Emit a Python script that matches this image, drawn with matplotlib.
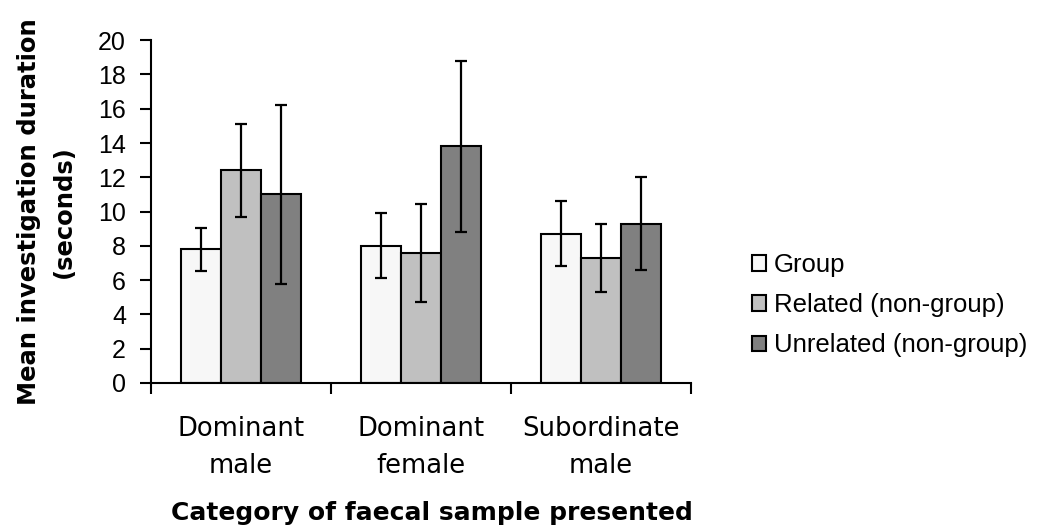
import numpy as np
import matplotlib
matplotlib.use("Agg")
import matplotlib.pyplot as plt

categories = ["Dominant\nmale", "Dominant\nfemale", "Subordinate\nmale"]
series_names = ["Group", "Related (non-group)", "Unrelated (non-group)"]
means = [
    [7.8, 8.0, 8.7],     # Group
    [12.4, 7.6, 7.3],    # Related (non-group)
    [11.0, 13.8, 9.3],   # Unrelated (non-group)
]
errors = [
    [1.25, 1.9, 1.9],
    [2.7, 2.85, 2.0],
    [5.2, 5.0, 2.7],
]
colors = ["#F7F7F7", "#C0C0C0", "#808080"]
yticks = list(range(0, 21, 2))

plt.rcParams["font.family"] = ["Liberation Sans", "DejaVu Sans"]
BOLD = ["DejaVu Sans"]

fig = plt.figure(figsize=(10.37, 5.29), dpi=100)
ax = fig.add_axes([0.1456, 0.276, 0.5207, 0.648])

n = len(categories)
x = np.arange(n)
width = 0.222
for i, (vals, errs, col, name) in enumerate(zip(means, errors, colors, series_names)):
    pos = x + (i - 1) * width
    ax.bar(pos, vals, width=width, color=col, edgecolor="black", linewidth=1.5,
           label=name, zorder=2)
    ax.errorbar(pos, vals, yerr=errs, fmt="none", ecolor="black", elinewidth=1.6,
                capsize=4.5, capthick=1.6, zorder=3)

ax.set_xlim(-0.5, n - 0.5)
ax.set_ylim(0, 20)
ax.set_yticks(yticks)
ax.set_yticklabels([str(v) for v in yticks], fontsize=18)
ax.tick_params(axis="y", length=8, width=1.5, pad=10)

# category labels centred, ticks at group boundaries
ax.set_xticks(x)
ax.set_xticklabels(categories, fontsize=18.6, family=["DejaVu Sans"],
                   linespacing=1.52)
ax.tick_params(axis="x", length=0, pad=24)
ax.set_xticks(np.arange(n + 1) - 0.5, minor=True)
ax.tick_params(axis="x", which="minor", length=8, width=1.5)

for side in ["top", "right"]:
    ax.spines[side].set_visible(False)
for side in ["left", "bottom"]:
    ax.spines[side].set_linewidth(1.5)

ax.set_ylabel("Mean investigation duration\n(seconds)", fontsize=17.5,
              family=BOLD, fontweight="bold", labelpad=16, linespacing=1.55)
ax.set_xlabel("Category of faecal sample presented", fontsize=18,
              family=BOLD, fontweight="bold")
ax.xaxis.set_label_coords(0.52, -0.399)
ax.xaxis.label.set_verticalalignment("baseline")

fig.legend(loc="center left", bbox_to_anchor=(0.725, 0.423), frameon=False,
           fontsize=18.5, handlelength=0.55, handleheight=0.55, handletextpad=0.32,
           labelspacing=0.63, borderaxespad=0, borderpad=0)

fig.savefig("out.png", dpi=100, facecolor="white")
